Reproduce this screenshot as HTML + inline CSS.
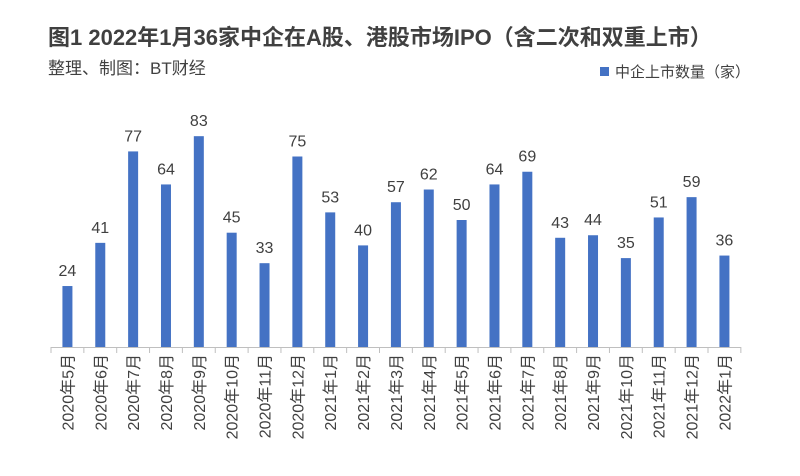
<!DOCTYPE html>
<html><head><meta charset="utf-8"><style>
body{margin:0;background:#fff;}
svg{display:block;font-family:"Liberation Sans","Noto Sans CJK SC",sans-serif;}
</style></head><body>
<svg id="chart" width="800" height="476" viewBox="0 0 800 476">
<text x="48" y="45" font-size="22" font-weight="bold" fill="#404040">图1 2022年1月36家中企在A股、港股市场IPO（含二次和双重上市）</text>
<text x="48" y="74" font-size="17" fill="#404040">整理、制图：BT财经</text>
<g>
<rect x="600" y="67" width="9" height="9" fill="#4472C4"/>
<text x="615" y="77" font-size="15" fill="#404040">中企上市数量（家）</text>
</g>
<g id="plot"></g>
</svg>
<script>
const categories=["2020年5月","2020年6月","2020年7月","2020年8月","2020年9月","2020年10月","2020年11月","2020年12月","2021年1月","2021年2月","2021年3月","2021年4月","2021年5月","2021年6月","2021年7月","2021年8月","2021年9月","2021年10月","2021年11月","2021年12月","2022年1月"];
const values=[24,41,77,64,83,45,33,75,53,40,57,62,50,64,69,43,44,35,51,59,36];
const x0=51,step=32.85,base=347,k=2.54;
const xs=i=>x0+step*(i+0.5);
const ys=v=>base-v*k;
const g=document.getElementById('plot');
const NS="http://www.w3.org/2000/svg";
function mk(t,a){const e=document.createElementNS(NS,t);for(const n in a)e.setAttribute(n,a[n]);g.appendChild(e);return e;}
const axis=mk('line',{x1:x0,y1:base+0.5,x2:x0+step*categories.length,y2:base+0.5,stroke:'#bfbfbf','stroke-width':1});


for(let i=0;i<=categories.length;i++){
const t=mk('line',{x1:x0+step*i,y1:base,x2:x0+step*i,y2:base+6,stroke:'#bfbfbf','stroke-width':1});


}
values.forEach((v,i)=>{
const b=mk('rect',{x:xs(i)-5,y:ys(v),width:10,height:base-ys(v),fill:'#4472C4'});


const l=mk('text',{x:xs(i),y:ys(v)-10,'font-size':16,fill:'#404040','text-anchor':'middle'});
l.textContent=v;


const c=mk('text',{x:0,y:0,'font-size':16,fill:'#404040','text-anchor':'end',transform:`translate(${xs(i)+6},354) rotate(-90)`});
c.textContent=categories[i];


});
</script>
</body></html>
